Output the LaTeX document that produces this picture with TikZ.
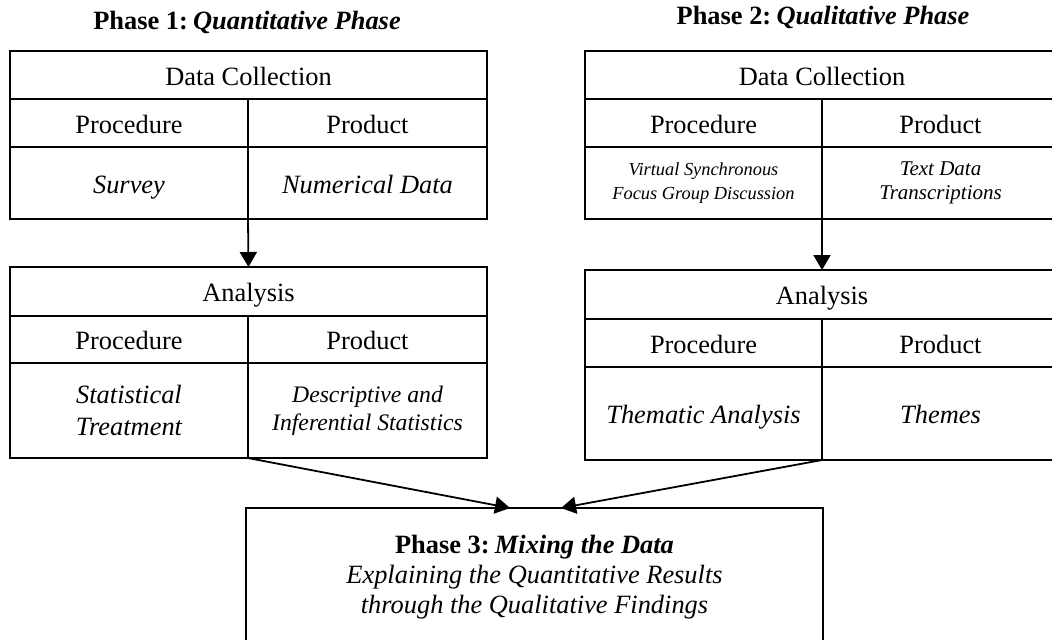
\documentclass[tikz,border=0pt]{standalone}
\usepackage{fontspec}
\setmainfont{Liberation Serif}
\usetikzlibrary{arrows.meta, positioning}
\tikzset{
  cell/.style = {draw=black, line width=0.6pt, rectangle, inner sep=0pt,
    outer sep=0pt, align=center, text centered,
    font=\fontsize{13.2}{16}\selectfont},
  item/.style = {cell, font=\fontsize{13.2}{16}\selectfont\itshape},
  oneline/.style = {text height=12pt, text depth=2pt},
  phasetitle/.style = {align=center, inner sep=0pt,
    font=\fontsize{13.2}{16}\selectfont\bfseries}
}
\begin{document}
\begin{tikzpicture}[x=0.5pt, y=-0.5pt, ->, >={Triangle[length=7.5pt,width=8.5pt]},
  link/.style = {line width=0.9pt}]
\useasboundingbox (0,0) rectangle (1052,639);
\clip (0,0) rectangle (1052,639);

\node [phasetitle] (phaseA) at (247,22) {Phase 1:\hspace{0.2em}\textit{Quantitative Phase}};
\node [cell, oneline, anchor=north west, minimum width=238.5pt, minimum height=24pt] (dcL) at (10,51) {Data Collection};
\node [cell, oneline, minimum width=119pt, minimum height=24pt, below right=0pt and 0pt of dcL.south west] (procL1) {Procedure};
\node [cell, oneline, minimum width=119.5pt, minimum height=24pt, right=0pt of procL1] (prodL1) {Product};
\node [item, oneline, minimum width=119pt, minimum height=36pt, below right=0pt and 0pt of procL1.south west] (survey) {Survey};
\node [item, oneline, minimum width=119.5pt, minimum height=36pt, right=0pt of survey] (numdata) {Numerical Data};
\node [cell, oneline, minimum width=238.5pt, minimum height=24.5pt, below right=24pt and 0pt of survey.south west] (anL) {Analysis};
\node [cell, oneline, minimum width=119pt, minimum height=23.5pt, below right=0pt and 0pt of anL.south west] (procL2) {Procedure};
\node [cell, oneline, minimum width=119.5pt, minimum height=23.5pt, right=0pt of procL2] (prodL2) {Product};
\node [item, minimum width=119pt, minimum height=47.5pt, below right=0pt and 0pt of procL2.south west] (stat) {Statistical\\Treatment};
\node [item, minimum width=119.5pt, minimum height=47.5pt, right=0pt of stat,
  font=\fontsize{11.85}{14}\selectfont\itshape] (desc) {Descriptive and\\Inferential Statistics};

\node [phasetitle] (phaseB) at (823,17) {Phase 2:\hspace{0.2em}\textit{Qualitative Phase}};
\node [cell, oneline, anchor=north west, minimum width=237pt, minimum height=24pt] (dcR) at (585,51) {Data Collection};
\node [cell, oneline, minimum width=118.5pt, minimum height=24pt, below right=0pt and 0pt of dcR.south west] (procR1) {Procedure};
\node [cell, oneline, minimum width=118.5pt, minimum height=24pt, right=0pt of procR1] (prodR1) {Product};
\node [item, minimum width=118.5pt, minimum height=36pt, below right=0pt and 0pt of procR1.south west,
  font=\fontsize{9.2}{11.7}\selectfont\itshape] (focus) {Virtual Synchronous\\Focus Group Discussion};
\node [item, minimum width=118.5pt, minimum height=36pt, right=0pt of focus,
  font=\fontsize{10.5}{12.3}\selectfont\itshape] (textdata) {Text Data\\Transcriptions};
\node [cell, oneline, minimum width=237pt, minimum height=24.5pt, below right=25.5pt and 0pt of focus.south west] (anR) {Analysis};
\node [cell, oneline, minimum width=118.5pt, minimum height=24pt, below right=0pt and 0pt of anR.south west] (procR2) {Procedure};
\node [cell, oneline, minimum width=118.5pt, minimum height=24pt, right=0pt of procR2] (prodR2) {Product};
\node [item, oneline, minimum width=118.5pt, minimum height=46.5pt, below right=0pt and 0pt of procR2.south west] (thematic) {Thematic Analysis};
\node [item, oneline, minimum width=118.5pt, minimum height=46.5pt, right=0pt of thematic] (themes) {Themes};

\node [cell, anchor=north west, minimum width=288.5pt, minimum height=69pt,
  font=\fontsize{13.2}{15}\selectfont] (mixing) at (246,508)
  {\textbf{Phase 3:\hspace{0.2em}\textit{Mixing the Data}}\\\textit{Explaining the Quantitative Results}\\\textit{through the Qualitative Findings}};
\coordinate (inL) at (510,508);
\coordinate (inR) at (561,508);

\draw [link] (survey.south east) -- (anL.north);
\draw [link] (focus.south east) -- (anR.north);
\draw [link] (stat.south east) -- (inL);
\draw [link] (thematic.south east) -- (inR);
\end{tikzpicture}
\end{document}
